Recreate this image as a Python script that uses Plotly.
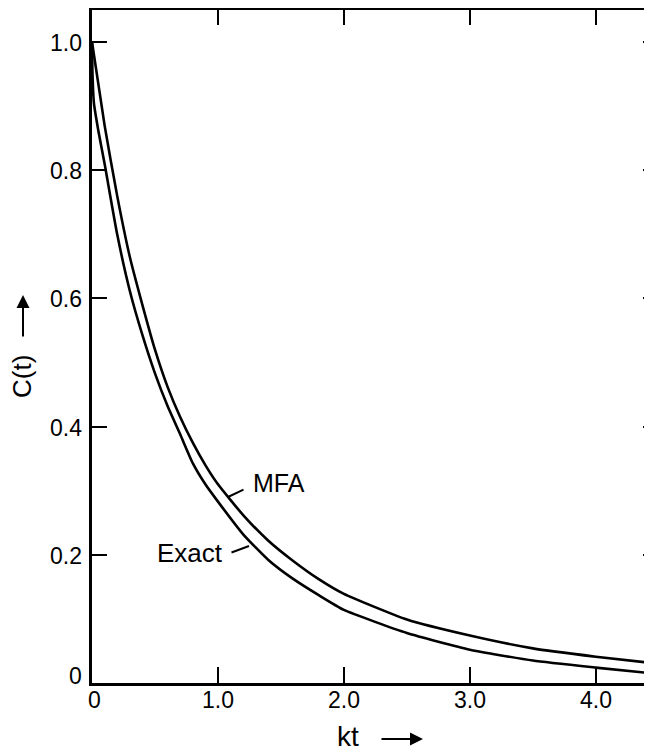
import plotly.graph_objects as go

# kt values and C(t)
kt_mfa = [0, 0.1, 0.2, 0.3, 0.4, 0.5, 0.6, 0.7, 0.8, 0.9, 1.0, 1.2, 1.4, 1.6, 1.8,
          2.0, 2.5, 3.0, 3.5, 4.0, 4.45]
c_mfa = [1.0, 0.87, 0.76, 0.665, 0.59, 0.52, 0.462, 0.415, 0.375, 0.34, 0.31,
         0.262, 0.222, 0.19, 0.162, 0.139, 0.099, 0.074, 0.054, 0.041, 0.031]

kt_exact = [0, 0.004, 0.015, 0.05, 0.1, 0.2, 0.3, 0.4, 0.5, 0.6, 0.7, 0.8, 0.9, 1.0,
            1.2, 1.4, 1.6, 1.8, 2.0, 2.5, 3.0, 3.5, 4.0, 4.45]
c_exact = [1.0, 0.95, 0.905, 0.862, 0.81, 0.70, 0.612, 0.543, 0.483, 0.432, 0.388,
           0.343, 0.31, 0.283, 0.232, 0.192, 0.162, 0.137, 0.114, 0.078, 0.052,
           0.035, 0.024, 0.015]

x_ticks = [0, 1, 2, 3, 4]
x_tick_labels = ["0", "1.0", "2.0", "3.0", "4.0"]
y_ticks = [0, 0.2, 0.4, 0.6, 0.8, 1.0]
y_tick_labels = ["0", "0.2", "0.4", "0.6", "0.8", "1.0"]
right_ticks = [0.2, 0.4, 0.6, 0.8, 1.0]
top_ticks = [1, 2, 3, 4]

X_RANGE = [0, 4.446]
Y_RANGE = [0, 1.05]
FONT = "Liberation Sans"

fig = go.Figure()
line = dict(color="black", width=2.6, shape="spline", smoothing=0.5)
fig.add_trace(go.Scatter(x=kt_mfa, y=c_mfa, mode="lines", line=line, name="MFA"))
fig.add_trace(go.Scatter(x=kt_exact, y=c_exact, mode="lines", line=line, name="Exact"))
# invisible trace to activate the mirror axes
fig.add_trace(go.Scatter(x=[None], y=[None], xaxis="x2", yaxis="y2", showlegend=False))

# page has an 8px body margin: figure 644x743 puts the plot area at 92..652 x 10..683
fig.update_layout(
    width=644, height=743,
    margin=dict(l=84, r=0, t=2, b=68, autoexpand=False),
    paper_bgcolor="white", plot_bgcolor="white",
    showlegend=False,
    font=dict(family=FONT, size=23, color="black"),
    xaxis=dict(range=X_RANGE, tickvals=x_ticks, showticklabels=False,
               ticks="inside", ticklen=16, tickwidth=2, tickcolor="black",
               showline=True, linewidth=3, linecolor="black",
               showgrid=False, zeroline=False),
    yaxis=dict(range=Y_RANGE, tickvals=y_ticks, showticklabels=False,
               ticks="inside", ticklen=15, tickwidth=2, tickcolor="black",
               showline=True, linewidth=3, linecolor="black",
               showgrid=False, zeroline=False),
    xaxis2=dict(range=X_RANGE, overlaying="x", side="top", tickvals=top_ticks,
                ticks="inside", ticklen=15, tickwidth=2, tickcolor="black",
                showticklabels=False, showline=True, linewidth=2.5, linecolor="black",
                showgrid=False, zeroline=False),
    yaxis2=dict(range=Y_RANGE, overlaying="y", side="right", tickvals=right_ticks,
                ticks="inside", ticklen=9, tickwidth=2, tickcolor="black",
                showticklabels=False, showline=False,
                showgrid=False, zeroline=False),
)

# helpers: reference-pixel position -> axis-domain fraction
L, R, T, B = 92, 652, 10, 683
def px(x):
    return (x - L) / (R - L)
def py(y):
    return (B - y) / (B - T)

DREF = dict(xref="x domain", yref="y domain")
AREF = dict(axref="x domain", ayref="y domain")
anns = []
# tick labels
for v, t in zip(x_ticks, x_tick_labels):
    anns.append(dict(text=t, x=v, xref="x", y=py(700), yref="y domain",
                     xanchor="center", yanchor="middle", showarrow=False,
                     xshift=2 if v == 0 else 0, font=dict(size=23, family=FONT)))
for v, t in zip(y_ticks, y_tick_labels):
    anns.append(dict(text=t, x=px(84), xref="x domain", y=v, yref="y",
                     xanchor="right", yanchor="middle", showarrow=False,
                     yshift=7 if v == 0 else -1, font=dict(size=23, family=FONT)))
# curve labels
anns.append(dict(text="MFA", x=px(251), y=py(483), **DREF,
                 xanchor="left", yanchor="middle", showarrow=False,
                 font=dict(size=25, family=FONT)))
anns.append(dict(text="Exact", x=px(155), y=py(553), **DREF,
                 xanchor="left", yanchor="middle", showarrow=False,
                 font=dict(size=26, family=FONT)))
# leader lines
anns.append(dict(x=px(228), y=py(497), ax=px(245), ay=py(489), **DREF, **AREF,
                 showarrow=True, arrowhead=0, arrowwidth=2, arrowcolor="black", text=""))
anns.append(dict(x=px(249), y=py(546), ax=px(230), ay=py(553), **DREF, **AREF,
                 showarrow=True, arrowhead=0, arrowwidth=2, arrowcolor="black", text=""))
# axis titles
anns.append(dict(text="kt", x=px(348), y=py(736), **DREF,
                 xanchor="center", yanchor="middle", showarrow=False,
                 font=dict(size=28, family=FONT)))
anns.append(dict(x=px(423), y=py(739), ax=px(380), ay=py(739), **DREF, **AREF,
                 showarrow=True, arrowhead=2, arrowsize=1.3,
                 arrowwidth=2, arrowcolor="black", text=""))
anns.append(dict(text="C(t)", x=px(22), y=py(377), **DREF,
                 xanchor="center", yanchor="middle", showarrow=False, textangle=-90,
                 font=dict(size=26, family=FONT)))
anns.append(dict(x=px(23), y=py(295), ax=px(23), ay=py(338), **DREF, **AREF,
                 showarrow=True, arrowhead=2, arrowsize=1.3,
                 arrowwidth=2, arrowcolor="black", text=""))
fig.update_layout(annotations=anns)

fig.write_html("out.html")
